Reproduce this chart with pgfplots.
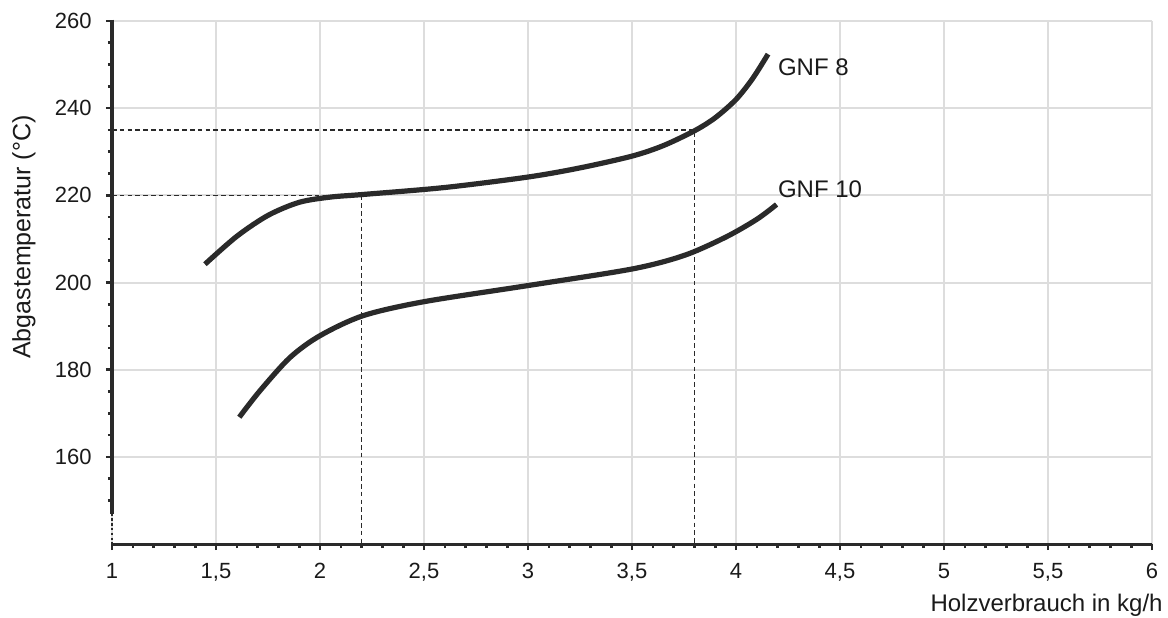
\documentclass[border=0pt]{standalone}
\usepackage{fontspec}
\setmainfont{Liberation Sans}
\usepackage{pgfplots}
\pgfplotsset{compat=1.18}

\definecolor{curve}{HTML}{2A2A2A}
\definecolor{gridc}{HTML}{DDDDDD}
\definecolor{txt}{HTML}{1A1A1A}

\begin{document}
\begin{tikzpicture}
\begin{axis}[
    scale only axis,
    width=520pt, height=261.5pt,
    xmin=1, xmax=6,
    ymin=140, ymax=260,
    axis x line=bottom,
    axis y line=left,
    axis line style={-, line width=1.5pt, color=curve},
    y axis line style={draw=none},
    xtick={1,1.5,...,6},
    minor xtick={1.1,1.2,...,5.95},
    ytick={160,180,...,260},
    minor ytick={150,155,...,255},
    tick align=outside,
    major tick length=3pt,
    minor tick length=2pt,
    every tick/.style={color=curve, line width=1.3pt},
    grid=major,
    major grid style={color=gridc, line width=1pt},
    /pgf/number format/.cd, use comma, 1000 sep={},
    /pgf/number format/assume math mode=true,
    /pgfplots/.cd,
    ticklabel style={font=\fontsize{11}{12}\selectfont, color=txt, inner sep=0pt},
    xticklabel style={anchor=north, yshift=-6.5pt},
    yticklabel style={anchor=east, xshift=-7pt},
    xlabel={Holzverbrauch in kg/h},
    ylabel={Abgastemperatur (°C)},
    xlabel style={font=\fontsize{12}{14}\selectfont, color=txt, inner sep=0pt,
        at={(rel axis cs:1,0)}, anchor=north east, yshift=-25pt, xshift=5.5pt},
    ylabel style={font=\fontsize{12.5}{14}\selectfont, color=txt, inner sep=0pt,
        at={(axis description cs:-0.0962,0.587)}, anchor=north},
    clip=false,
]
% Hilfslinien
\addplot[color=curve, line width=0.8pt, dash pattern=on 2.3pt off 1.6pt] coordinates {(1,235) (3.8,235) (3.8,140)};
\addplot[color=curve, line width=0.8pt, dash pattern=on 2.3pt off 1.6pt] coordinates {(1,220) (2.2,220) (2.2,140)};
% y-Achse (unten unterbrochen)
\addplot[color=curve, line width=1.5pt] coordinates {(1,260.3) (1,147)};
\addplot[color=curve, line width=0.7pt, dash pattern=on 1.2pt off 1.2pt] coordinates {(1,147) (1,140)};
% GNF 8
\addplot[color=curve, line width=2.6pt, smooth] coordinates {
    (1.447,204.2) (1.6,210.6) (1.75,215.4) (1.9,218.4) (2.05,219.6)
    (2.207,220.2) (2.6,221.8) (3.0,224.2) (3.25,226.3) (3.5,229.0)
    (3.65,231.4) (3.8,234.8) (3.9,237.8) (4.0,242.0) (4.08,246.8) (4.154,252.4)};
% GNF 10
\addplot[color=curve, line width=2.6pt, smooth] coordinates {
    (1.612,169.1) (1.712,175.2) (1.856,182.8) (2.0,187.8) (2.208,192.4)
    (2.5,195.6) (3.0,199.3) (3.5,203.1) (3.75,206.2) (3.95,210.4)
    (4.1,214.5) (4.195,217.9)};
\node[anchor=west, inner sep=0pt, color=txt, font=\fontsize{12}{14}\selectfont] at (axis cs:4.2,249.5) {GNF 8};
\node[anchor=west, inner sep=0pt, color=txt, font=\fontsize{12}{14}\selectfont] at (axis cs:4.2,221.5) {GNF 10};
\end{axis}
\pgfresetboundingbox
\path[use as bounding box] ([shift={(-56pt,-36.5pt)}]current axis.south west)
    rectangle ([shift={(8pt,10.5pt)}]current axis.north east);
\end{tikzpicture}
\end{document}
